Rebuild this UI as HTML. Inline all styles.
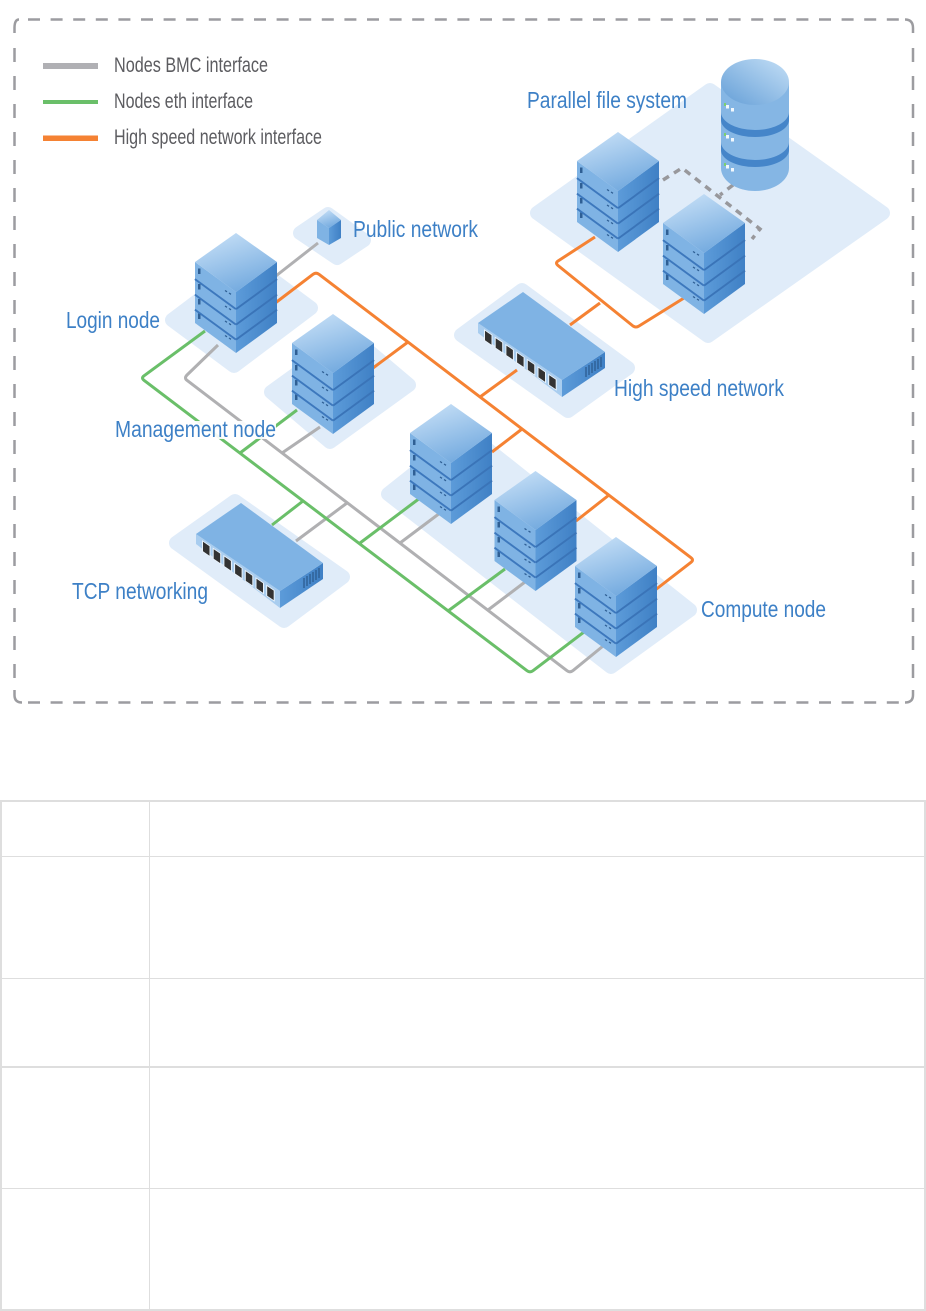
<!DOCTYPE html>
<html><head><meta charset="utf-8"><style>
html,body{margin:0;padding:0;background:#fff}
svg{display:block}
</style></head><body>
<svg width="926" height="1311" viewBox="0 0 926 1311" xmlns="http://www.w3.org/2000/svg" font-family="'Liberation Sans',sans-serif">
<defs>
<linearGradient id="top" x1="0.3" y1="0" x2="0.75" y2="1"><stop offset="0" stop-color="#c4def6"/><stop offset="1" stop-color="#6da6dd"/></linearGradient>
<linearGradient id="rgt" x1="0" y1="0" x2="1" y2="0"><stop offset="0" stop-color="#5c9bd9"/><stop offset="1" stop-color="#3f80c5"/></linearGradient>
<linearGradient id="cyl" x1="0" y1="1" x2="1" y2="0"><stop offset="0.1" stop-color="#6ea5da"/><stop offset="1" stop-color="#c4dff6"/></linearGradient>
<g id="layer">
<polygon points="-41,29 0,59 0,75 -41,45" fill="#7fb3e4"/>
<polygon points="41,29 0,59 0,75 41,45" fill="url(#rgt)"/>
<rect x="-38" y="35.500" width="2.500" height="5.500" fill="#2f5f94"/>
<path d="M-11,57.500l2,1.300M-7,60l2,1.300" stroke="#2f5f94" stroke-width="1.300"/>
</g>
<g id="groove">
<polyline points="-41,46 0,76" fill="none" stroke="#3d78bd" stroke-width="2.200"/>
<polyline points="0,76 41,46" fill="none" stroke="#3a74b8" stroke-width="2.200"/>
</g>
<g id="server">
<use href="#layer" y="45"/>
<use href="#groove" y="30.500"/>
<use href="#layer" y="30.500"/>
<use href="#groove" y="15.500"/>
<use href="#layer" y="15.500"/>
<use href="#groove"/>
<use href="#layer"/>
<polygon points="0,0 -41,29 0,59 41,29" fill="url(#top)"/>
</g>
<g id="switch">
<polygon points="-45,31 39,88 39,105 -45,41" fill="#a9cdef"/>
<polygon points="39,88 82,60 82,76 39,105" fill="url(#rgt)"/>
<polygon points="0,0 -45,31 39,88 82,60" fill="#7fb3e4"/>
<g fill="#333" stroke="#eaf3fb" stroke-width="1">
<rect x="-38.500" y="40.500" width="7.500" height="10.500" transform="skewY(34)" style="transform-box:fill-box;transform-origin:center"/>
<rect x="-27.800" y="47.900" width="7.500" height="10.500" transform="skewY(34)" style="transform-box:fill-box;transform-origin:center"/>
<rect x="-17.100" y="55.300" width="7.500" height="10.500" transform="skewY(34)" style="transform-box:fill-box;transform-origin:center"/>
<rect x="-6.400" y="62.700" width="7.500" height="10.500" transform="skewY(34)" style="transform-box:fill-box;transform-origin:center"/>
<rect x="4.300" y="70.100" width="7.500" height="10.500" transform="skewY(34)" style="transform-box:fill-box;transform-origin:center"/>
<rect x="15" y="77.500" width="7.500" height="10.500" transform="skewY(34)" style="transform-box:fill-box;transform-origin:center"/>
<rect x="25.700" y="84.900" width="7.500" height="10.500" transform="skewY(34)" style="transform-box:fill-box;transform-origin:center"/>
</g>
<path d="M63,75v10M66,73v10M69,71v10M72,69v10M75,67v10M78,65v10" stroke="#2c5c90" stroke-width="1.300" fill="none"/>
</g>
</defs>

<!-- outer dashed frame -->
<g stroke="#9c9ca0" stroke-width="2.500" fill="none">
<path d="M14.500,33V28Q14.500,19.500 19,19.500" />
<path d="M913,33V28Q913,19.500 905,19.500" />
<path d="M14.500,690V695Q14.500,702.500 22,702.500" />
<path d="M913,690V695Q913,702.500 905,702.500" />
<line x1="28" y1="19.500" x2="900" y2="19.500" stroke-dasharray="12 10.600"/>
<line x1="28" y1="702.500" x2="900" y2="702.500" stroke-dasharray="12 10.600"/>
<line x1="14.500" y1="48" x2="14.500" y2="685" stroke-dasharray="14 14"/>
<line x1="913" y1="48" x2="913" y2="685" stroke-dasharray="14 14"/>
</g>

<!-- legend -->
<rect x="43" y="63" width="55" height="6" fill="#b0b0b4"/>
<rect x="43" y="100" width="55" height="4" fill="#6abf69"/>
<rect x="43" y="135.500" width="55" height="5.500" fill="#f58233"/>
<g fill="#5c5c60" font-size="21">
<text x="114" y="72" textLength="154" lengthAdjust="spacingAndGlyphs">Nodes BMC interface</text>
<text x="114" y="108" textLength="139" lengthAdjust="spacingAndGlyphs">Nodes eth interface</text>
<text x="114" y="144" textLength="208" lengthAdjust="spacingAndGlyphs">High speed network interface</text>
</g>

<!-- plates -->
<g fill="#e0ecf9" stroke="#e0ecf9" stroke-width="14" stroke-linejoin="round">
<polygon points="300,233 328,214 364,240 337,258"/>
<polygon points="172,320 249,262 311,308 234,366"/>
<polygon points="271,392 350,335 409,385 330,442"/>
<polygon points="388,494 466,432 690,610 611,667"/>
<polygon points="537,213 710,90 883,213 708,336"/>
<polygon points="461,335 522,290 628,368 568,411"/>
<polygon points="176,543 235,501 343,577 284,621"/>
</g>

<!-- dashed storage links -->
<g fill="none" stroke="#98989c" stroke-width="3.500" stroke-dasharray="7 6">
<polyline points="663,180 682,168 760,229 752,239"/>
<line x1="733" y1="185" x2="720" y2="195"/>
</g>

<!-- wires -->
<g fill="none" stroke-width="3" stroke-linejoin="round">
<g stroke="#b0b0b2">
<line x1="272" y1="279" x2="318" y2="243"/>
<path d="M218,345L187,375Q184,378 187,380.300L567,670.700Q570,673 573,670.600L608,642"/>
<line x1="282" y1="453" x2="320" y2="427"/>
<line x1="347" y1="503" x2="296" y2="541"/>
<line x1="400" y1="543" x2="440" y2="513"/>
<line x1="488" y1="610" x2="525" y2="582"/>
</g>
<g stroke="#6abf69">
<path d="M205,331L144,375.800Q141,378 144,380.300L527,670.700Q530,673 533,670.700L584,632"/>
<line x1="297" y1="410" x2="240" y2="453"/>
<line x1="303" y1="501" x2="272" y2="525"/>
<line x1="360" y1="543" x2="420" y2="498"/>
<line x1="448" y1="611" x2="505" y2="569"/>
</g>
<g stroke="#f58233">
<path d="M270,307L313,274.300Q316,272 319,274.300L691,557.700Q694,560 691,562.300L650,594"/>
<line x1="373" y1="368" x2="408" y2="342"/>
<line x1="480" y1="397" x2="517" y2="370"/>
<line x1="522" y1="429" x2="492" y2="452"/>
<line x1="609" y1="495" x2="576" y2="521"/>
<path d="M595,237L558,261Q555,263 558,265.500L633,326Q636,328 639,326L684,298"/>
<line x1="600" y1="303" x2="570" y2="325"/>
</g>
</g>

<!-- cube -->
<polygon points="329,210 317,220 329,228 341,220" fill="url(#top)"/>
<polygon points="317,220 329,228 329,245 317,238" fill="#7fb3e4"/>
<polygon points="341,220 329,228 329,245 341,238" fill="url(#rgt)"/>

<!-- cylinder -->
<path d="M721,82H789V168A34,23 0 0 1 721,168Z" fill="#85b6e4"/>
<ellipse cx="755" cy="82" rx="34" ry="23" fill="url(#cyl)"/>
<path d="M721,112A34,18 0 0 0 789,112V120A34,17 0 0 1 721,120Z" fill="#4585c9"/>
<path d="M721,142A34,18 0 0 0 789,142V150A34,17 0 0 1 721,150Z" fill="#4585c9"/>
<g fill="#f2f8fd">
<rect x="726" y="105" width="3" height="3.500"/><rect x="731" y="108" width="3" height="3.500"/>
<rect x="726" y="135" width="3" height="3.500"/><rect x="731" y="138" width="3" height="3.500"/>
<rect x="726" y="165" width="3" height="3.500"/><rect x="731" y="168" width="3" height="3.500"/>
</g>
<g fill="#7ccf70"><rect x="724" y="103" width="2" height="3"/><rect x="724" y="133" width="2" height="3"/><rect x="724" y="163" width="2" height="3"/></g>

<!-- servers -->
<use href="#server" x="236" y="233"/>
<use href="#server" x="333" y="314"/>
<use href="#server" x="451" y="404"/>
<use href="#server" x="535.500" y="471"/>
<use href="#server" x="616" y="537"/>
<use href="#server" x="618" y="132"/>
<use href="#server" x="704" y="194"/>

<!-- switches -->
<use href="#switch" x="523" y="292"/>
<use href="#switch" x="241" y="503"/>

<!-- labels -->
<rect x="115" y="421" width="161" height="18" fill="#fff" opacity="0.92"/>
<g fill="#3d80c6" font-size="23">
<text x="527" y="108" textLength="160" lengthAdjust="spacingAndGlyphs">Parallel file system</text>
<text x="353" y="237" textLength="125" lengthAdjust="spacingAndGlyphs">Public network</text>
<text x="66" y="328" textLength="94" lengthAdjust="spacingAndGlyphs">Login node</text>
<text x="115" y="437" textLength="161" lengthAdjust="spacingAndGlyphs">Management node</text>
<text x="614" y="396" textLength="170" lengthAdjust="spacingAndGlyphs">High speed network</text>
<text x="72" y="599" textLength="136" lengthAdjust="spacingAndGlyphs">TCP networking</text>
<text x="701" y="617" textLength="125" lengthAdjust="spacingAndGlyphs">Compute node</text>
</g>

<!-- table -->
<g fill="#dedede">
<rect x="0" y="800" width="926" height="2"/>
<rect x="0" y="856" width="926" height="1"/>
<rect x="0" y="978" width="926" height="1"/>
<rect x="0" y="1066" width="926" height="2"/>
<rect x="0" y="1188" width="926" height="1"/>
<rect x="0" y="1309" width="926" height="2"/>
<rect x="0" y="800" width="2" height="511"/>
<rect x="924" y="800" width="2" height="511"/>
<rect x="149" y="800" width="1" height="511"/>
</g>
</svg>
</body></html>
